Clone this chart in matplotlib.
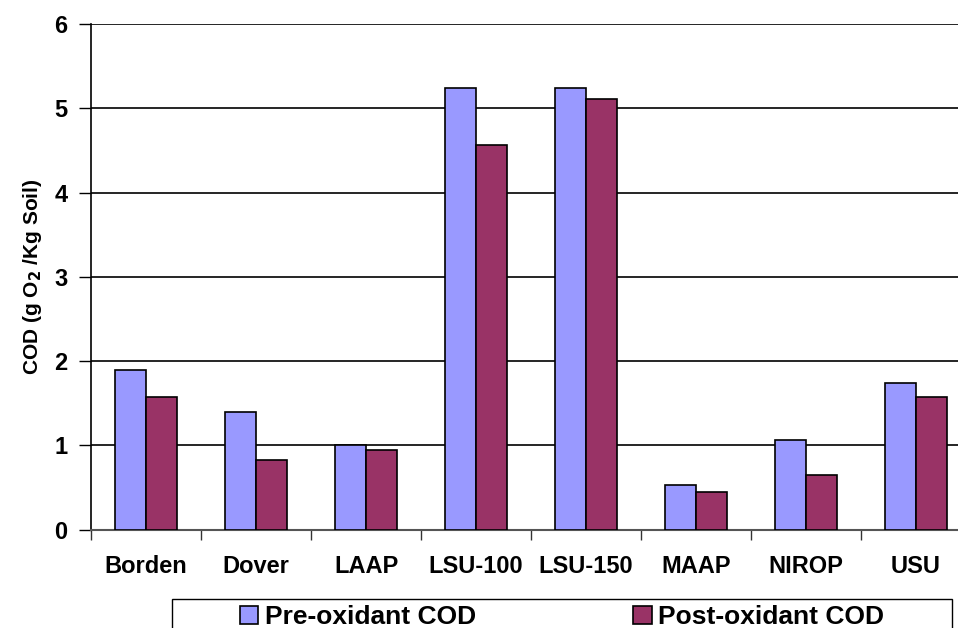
import numpy as np
import matplotlib
matplotlib.use("Agg")
from matplotlib import pyplot as plt
from matplotlib.patches import Patch, Rectangle

# data
sites = ["Borden", "Dover", "LAAP", "LSU-100", "LSU-150", "MAAP", "NIROP", "USU"]
pre_cod = [1.90, 1.40, 1.01, 5.24, 5.24, 0.53, 1.06, 1.74]
post_cod = [1.58, 0.83, 0.95, 4.56, 5.11, 0.45, 0.65, 1.57]

pre_color = "#9999FF"
post_color = "#993366"

plt.rcParams['font.family'] = ['Liberation Sans', 'DejaVu Sans']
plt.rcParams['font.weight'] = 'bold'

W, H = 958, 628
fig = plt.figure(figsize=(W / 100, H / 100), dpi=100)
ax = fig.add_axes([91 / W, 1 - 529.7 / H, 880 / W, (529.7 - 24) / H])

x = np.arange(len(sites))
bw = 0.285
ax.bar(x - bw / 2, pre_cod, bw, color=pre_color, edgecolor="black", linewidth=1.2, zorder=3)
ax.bar(x + bw / 2, post_cod, bw, color=post_color, edgecolor="black", linewidth=1.2, zorder=3)

ax.set_xlim(-0.5, len(sites) - 0.5)
ax.set_ylim(0, 6)
ax.set_yticks(range(7))
ax.yaxis.grid(True, color="black", linewidth=1.2, zorder=0)
ax.set_axisbelow(True)

# tick marks between categories, labels centred under them
ax.set_xticks(np.arange(-0.5, len(sites), 1.0))
ax.set_xticklabels([])
ax.set_xticks(x, minor=True)
ax.set_xticklabels(sites, minor=True, fontsize=17, fontweight="bold")
ax.tick_params(axis="x", which="major", length=7, width=1, direction="out", color="#333333")
ax.tick_params(axis="x", which="minor", length=0, pad=18)
ax.tick_params(axis="y", length=9, width=1, direction="out", pad=8, labelsize=17)
for lab in ax.get_yticklabels():
    lab.set_fontweight("bold")

for s in ["top", "right"]:
    ax.spines[s].set_visible(False)
ax.spines["left"].set_linewidth(1.2)
ax.spines["bottom"].set_color("#555555")
ax.spines["bottom"].set_linewidth(1.5)

ax.set_ylabel("COD (g O$_\\mathbf{2}$ /Kg Soil)", fontsize=15, fontweight="bold", labelpad=7)

# legend box runs off the bottom of the picture
fig.patches.append(Rectangle((172 / W, 1 - 640 / H), 780 / W, 41 / H,
                             transform=fig.transFigure, facecolor="white",
                             edgecolor="black", linewidth=1.0))
handles = [Patch(facecolor=pre_color, edgecolor="black", linewidth=1.2),
           Patch(facecolor=post_color, edgecolor="black", linewidth=1.2)]
leg = fig.legend(handles, ["Pre-oxidant COD", "Post-oxidant COD"], ncol=2,
                 loc="center left", bbox_to_anchor=(240 / W, 1 - 617 / H),
                 frameon=False, borderaxespad=0, borderpad=0, handlelength=0.7,
                 handleheight=0.7, handletextpad=0.25, columnspacing=5.95,
                 prop={"size": 19, "weight": "bold"})

fig.savefig("out.png", dpi=100)
